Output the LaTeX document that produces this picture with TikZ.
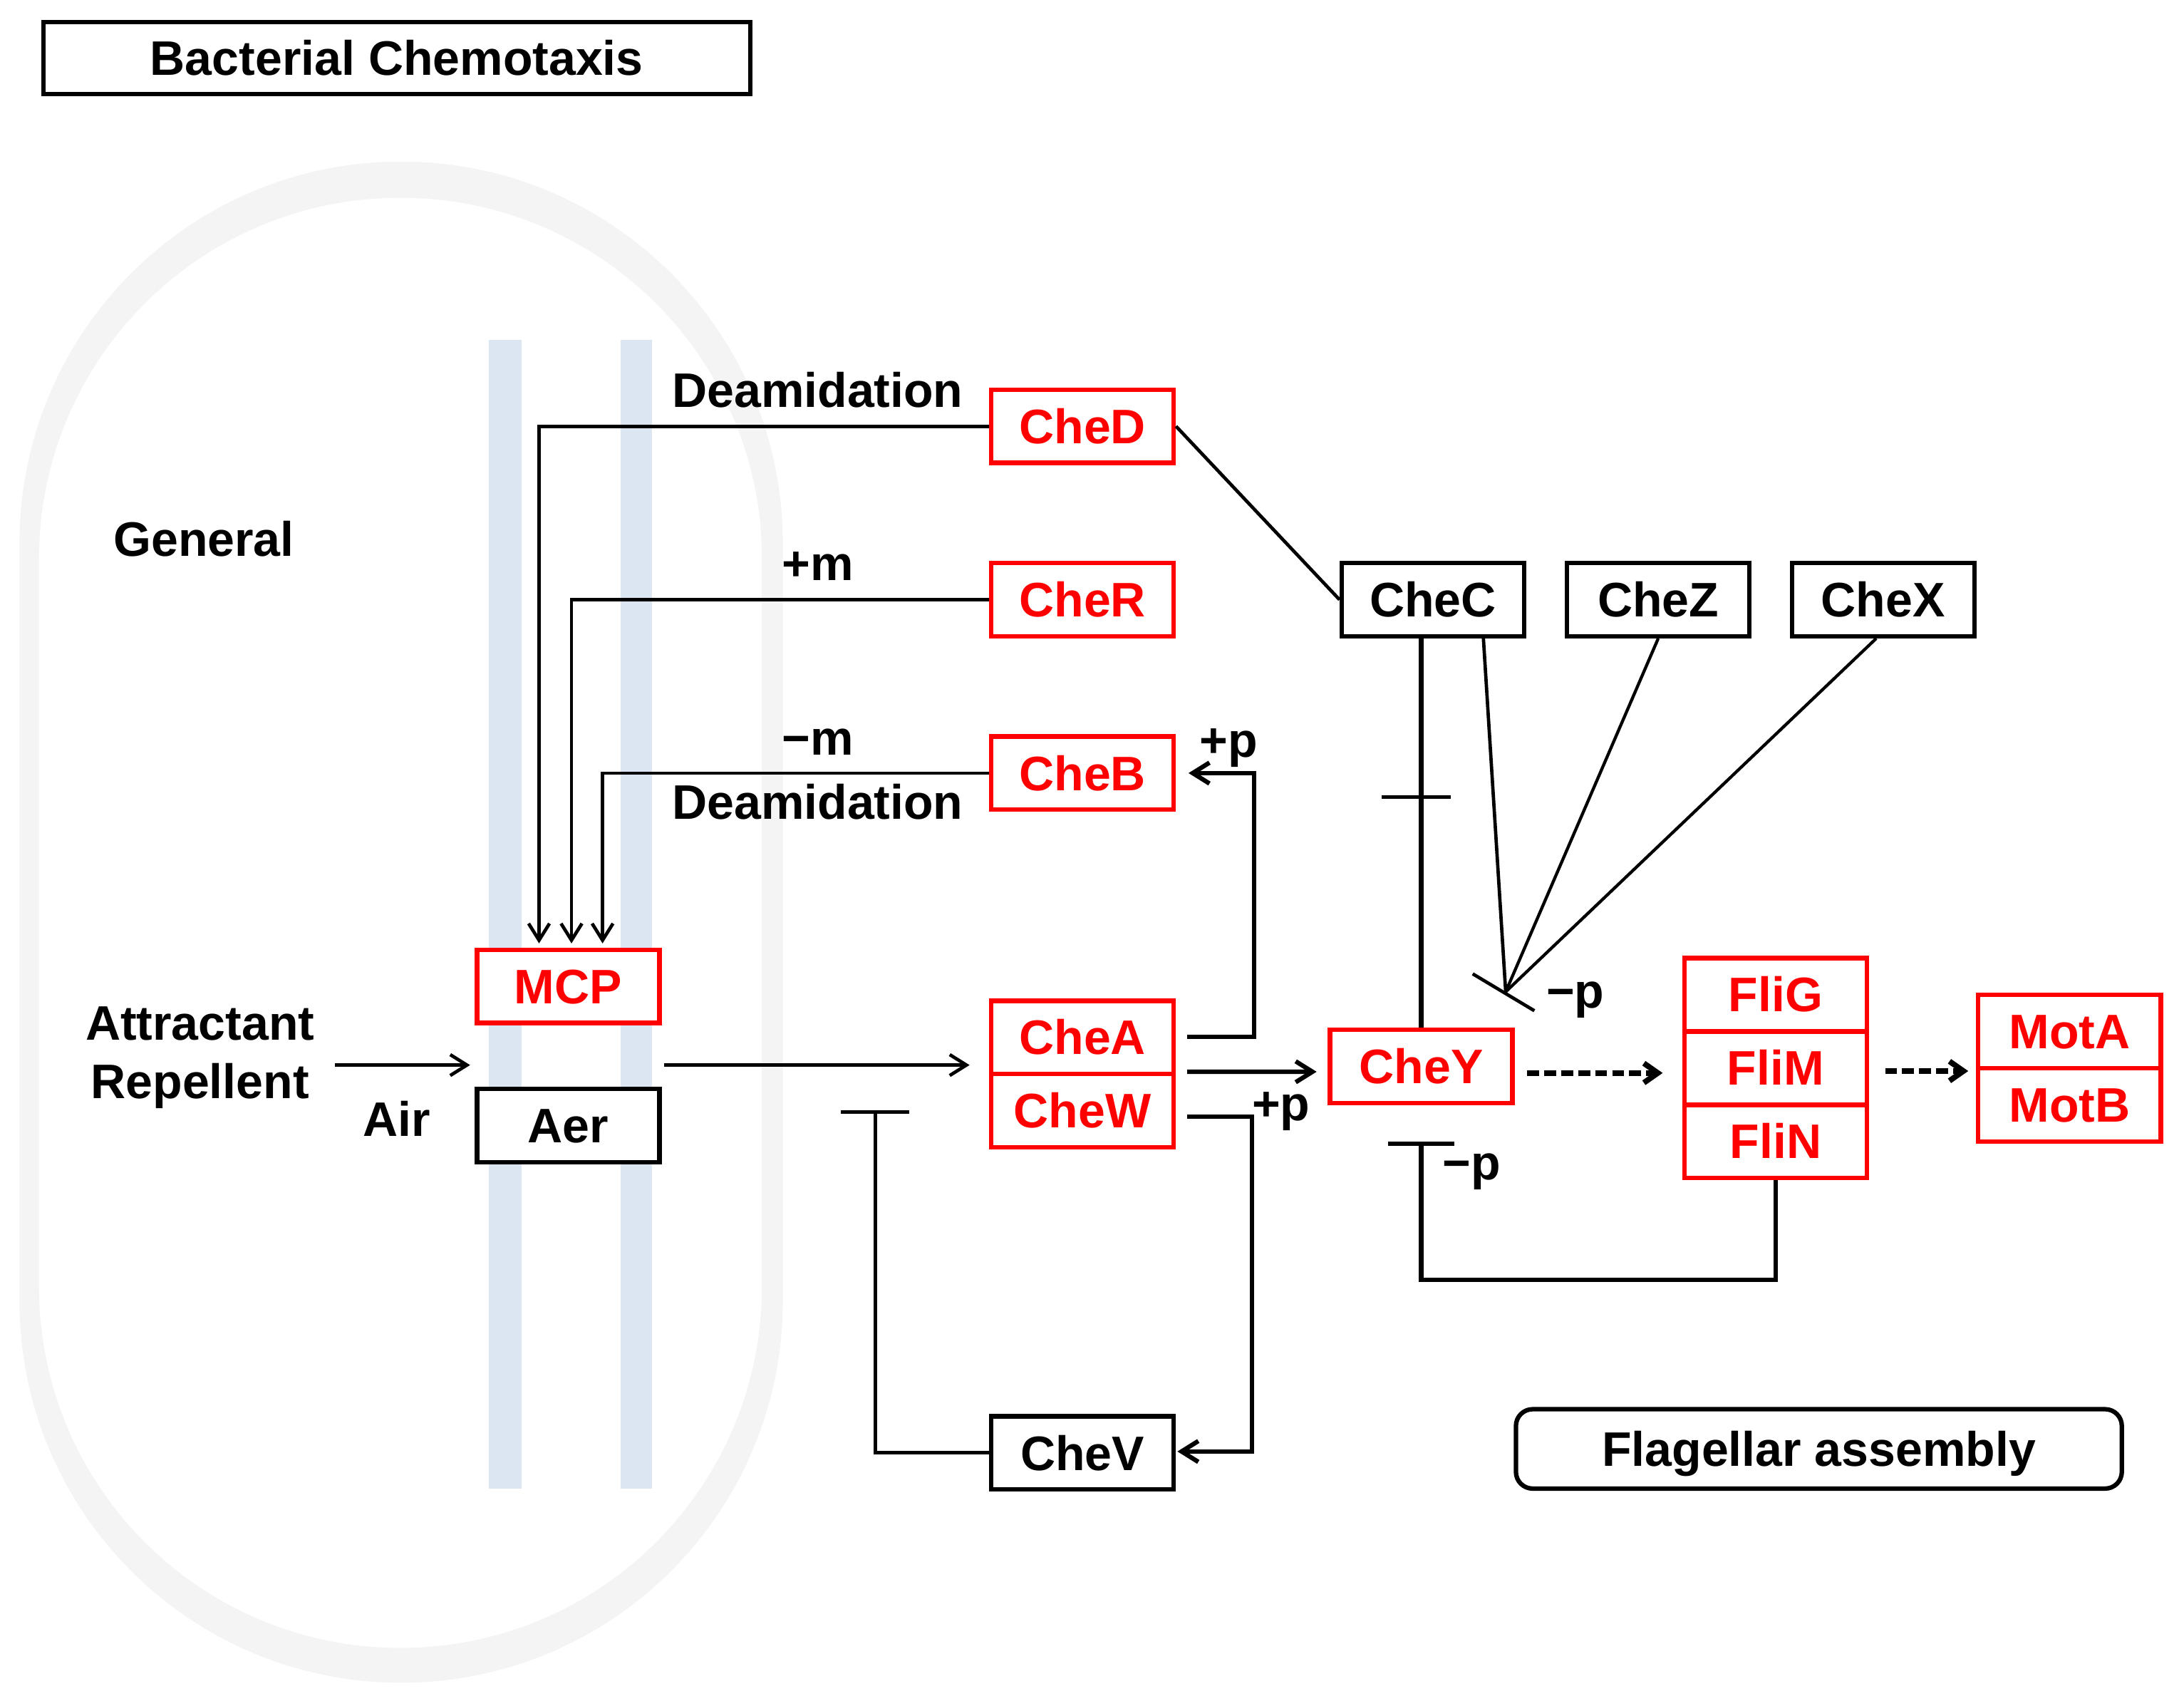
\documentclass[tikz,border=0pt]{standalone}
\usepackage{fontspec}
\setmainfont{Liberation Sans}
\usetikzlibrary{arrows.meta,calc}
\definecolor{cellgray}{RGB}{244,244,244}
\definecolor{membblue}{RGB}{220,230,242}
\definecolor{pred}{RGB}{255,0,0}
\newcommand{\dfont}{\fontsize{17.4}{21}\selectfont\bfseries}
\begin{document}
\begin{tikzpicture}[x=0.5pt,y=-0.5pt,
  lbl/.style={font=\dfont, inner sep=0pt},
  box/.style={draw, line width=1.6pt, fill=white, minimum width=65.5pt, minimum height=26.25pt,
              text height=12.4pt, text depth=0pt, inner sep=0pt, font=\dfont},
  rbox/.style={box, draw=pred, text=pred},
  conn/.style={line width=1.2pt},
  connthick/.style={line width=1.6pt},
  connthin/.style={line width=1.1pt},
  arr/.style={conn, -{Straight Barb[length=6pt,width=7.5pt]}},
  arrthick/.style={connthick, -{Straight Barb[length=6pt,width=7.5pt]}},
  dasharr/.style={line width=2pt, dash pattern=on 4.3pt off 1.8pt, -{Straight Barb[length=5pt,width=7pt]}},
  inh/.style={conn, -{Bar[width=24.5pt]}},
  inhthick/.style={connthick, -{Bar[width=24pt]}}
]
\useasboundingbox (0,0) rectangle (1568,1217.06);

% cell outline
\fill[cellgray, even odd rule]
  [rounded corners=136.9pt] (14,116) rectangle (562,1208)
  [rounded corners=129.6pt] (28,142) rectangle (547,1183);

% membrane
\fill[membblue] (351,244) rectangle (374.4,1068.6);
\fill[membblue] (445.8,244) rectangle (468,1068.6);

% title
\node[box, line width=1.5pt, minimum width=253.85pt, minimum height=25.8pt] (title) at (284.85,41.7) {Bacterial Chemotaxis};

% boxes
\node[rbox] (CheD) at (777.2,306) {CheD};
\node[rbox] (CheR) at (777.2,430.5) {CheR};
\node[rbox] (CheB) at (777.2,555) {CheB};
\node[rbox] (MCP) at (408,708.1) {MCP};
\node[box] (Aer) at (408,808.1) {Aer};
\node[rbox] (CheA) at (777.2,744.7) {CheA};
\node[rbox] (CheW) at (777.2,797.2) {CheW};
\node[box] (CheV) at (777.2,1043) {CheV};
\node[rbox] (CheY) at (1020.35,765.5) {CheY};
\node[box] (CheC) at (1028.8,430.5) {CheC};
\node[box] (CheZ) at (1190.5,430.5) {CheZ};
\node[box] (CheX) at (1352,430.5) {CheX};
\node[rbox] (FliG) at (1274.8,714) {FliG};
\node[rbox] (FliM) at (1274.8,766.7) {FliM};
\node[rbox] (FliN) at (1274.8,819.4) {FliN};
\node[rbox] (MotA) at (1485.8,740.5) {MotA};
\node[rbox] (MotB) at (1485.8,793.2) {MotB};
\node[box, minimum width=217.5pt, minimum height=28.5pt, rounded corners=6pt] (flag) at (1305.85,1040.15) {Flagellar assembly};

% labels
\node[lbl, anchor=base] (deam1) at (587,292.2) {Deamidation};
\node[lbl, anchor=base] (plusm) at (587,416.8) {+m};
\node[lbl, anchor=base] (minusm) at (587,542) {−m};
\node[lbl, anchor=base] (deam2) at (587,588) {Deamidation};
\node[lbl, anchor=base] (general) at (146.3,399.3) {General};
\node[lbl, anchor=base] (attr1) at (143.6,746.6) {Attractant};
\node[lbl, anchor=base] (attr2) at (143.6,788.8) {Repellent};
\node[lbl, anchor=base] (air) at (284.7,815.8) {Air};
\node[lbl] (pp1) at (882,536.7) {+p};
\node[lbl] (pp2) at (919.7,798) {+p};
\node[lbl] (mp1) at (1131,718) {−p};
\node[lbl] (mp2) at (1056.7,841) {−p};

% coordinates for free ends
\coordinate (sigA) at (240.5,764.6);
\coordinate (sigB) at (337.5,764.6);
\coordinate (recv) at (476.7,764.6);
\coordinate (vInh) at (628.4,797.1);
\coordinate (conv) at (1081,712);

% MCP modifications
\draw[arr] (CheD.west) -| ($(MCP.north)+(-21,-3)$);
\draw[arr] (CheR.west) -| ($(MCP.north)+(2.3,-3)$);
\draw[arr] (CheB.west) -| ($(MCP.north)+(24.6,-3)$);

% signal input
\draw[arr] (sigA) -- (sigB);
\draw[arr] (recv) -- ($(recv -| CheA.west)+(-14,0)$);

% CheA outputs
\draw[arrthick] ($(CheA.east)+(8,-0.4)$) -| ($(CheB.east)+(56,0)$) -- ($(CheB.east)+(9,0)$);
\draw[arrthick] ($(CheA.east)+(8,24.7)$) -- ($(CheY.west)+(-8,3.9)$);
\draw[arrthick] ($(CheW.east)+(8,4.3)$) -| ($(CheV.east)+(54.5,-1)$) -- ($(CheV.east)+(1,-1)$);
\draw[inh] (CheV.west) -| (vInh);

% CheD - CheC
\draw[conn] (CheD.east) -- (CheC.west);

% CheC - CheY
\draw[connthick] (CheY.north |- CheC.south) -- (CheY.north);
\coordinate (tk) at ($(CheY.north |- CheC.south)!0.407!(CheY.north)$);
\draw[conn] ($(tk)+(-28.5,0)$) -- ($(tk)+(21,0)$);

% phosphatases
\draw[conn] ($(CheC.south)+(36.2,0)$) -- (conv);
\draw[connthin] (CheZ.south) -- (conv);
\draw[connthin] ($(CheX.south)+(-5,0)$) -- (conv);
\draw[conn] ($(conv)+(-23.7,-12.9)$) -- ($(conv)+(20.6,13.6)$);

% motor
\draw[dasharr] ($(CheY.east)+(9,4.8)$) -- ($(CheY.east -| FliM.west)+(-14,4.8)$);
\draw[dasharr] ($(FliM.east)+(11.5,2.2)$) -- ($(FliM.east -| MotA.west)+(-5.6,2.2)$);
\draw[inhthick] (FliN.south) -- ($(FliN.south)+(0,71.5)$) -| ($(CheY.south)+(0,26)$);
\end{tikzpicture}
\end{document}
